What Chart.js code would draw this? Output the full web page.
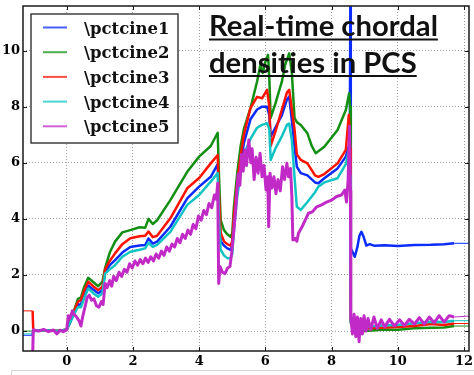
<!DOCTYPE html>
<html>
<head>
<meta charset="utf-8">
<script src="https://cdn.jsdelivr.net/npm/chart.js@4.4.0/dist/chart.umd.min.js"></script>
<style>
  html, body { margin: 0; padding: 0; background: #fff; }
  canvas { display: block; }
</style>
</head>
<body>
<canvas id="chart" width="474" height="375"></canvas>
<script>
const xTicks = [0, 2, 4, 6, 8, 10, 12]
const yTicks = [0, 2, 4, 6, 8, 10]
const seriesNames = ['\\pctcine1', '\\pctcine2', '\\pctcine3', '\\pctcine4', '\\pctcine5']
const seriesColors = ['#0a2cff', '#138f13', '#ff1200', '#10c4c4', '#c22ac8']
const titleLines = ['Real-time chordal', 'densities in PCS']

// [time, density]
const cine1 = [[-1.32,-0.15],[-1.03,-0.15],[-1.01,0.0],[-0.6,0.02],[-0.3,0.0],[0.0,0.05],[0.1,0.3],[0.22,0.65],[0.34,0.95],[0.43,0.95],[0.52,1.3],[0.65,1.62],[0.8,1.48],[0.95,1.35],[1.08,1.45],[1.16,2.12],[1.3,2.35],[1.46,2.53],[1.68,2.8],[1.92,3.0],[2.2,3.05],[2.37,3.07],[2.47,3.3],[2.6,3.12],[2.73,3.19],[3.13,3.72],[3.64,4.73],[4.0,5.15],[4.35,5.5],[4.56,5.95],[4.6,4.4],[4.65,3.2],[4.75,3.05],[4.85,2.95],[4.95,2.9],[5.0,3.05],[5.05,3.9],[5.15,5.0],[5.25,5.9],[5.35,6.7],[5.55,7.55],[5.75,7.9],[5.9,8.0],[6.05,8.0],[6.12,7.7],[6.16,6.93],[6.3,7.25],[6.5,7.7],[6.65,8.25],[6.72,8.36],[6.8,7.5],[6.88,6.6],[6.95,5.86],[7.07,5.63],[7.27,5.55],[7.5,5.3],[7.6,5.27],[7.78,5.45],[8.18,5.8],[8.43,6.22],[8.55,6.7],[8.57,13],[8.58,2.95],[8.7,2.65],[8.78,3.0],[8.84,3.4],[8.9,3.54],[8.97,3.35],[9.05,3.05],[9.15,3.1],[9.3,3.04],[9.6,3.06],[10.0,3.03],[10.5,3.07],[11.0,3.08],[11.4,3.1],[11.7,3.13],[12.2,3.13]]
const cine2 = [[-1.32,0.0],[-1.03,0.0],[-1.01,0.02],[-0.6,0.03],[-0.3,0.0],[0.0,0.05],[0.1,0.4],[0.22,0.72],[0.34,1.15],[0.43,1.2],[0.52,1.55],[0.65,1.9],[0.8,1.75],[0.95,1.6],[1.08,1.76],[1.16,2.25],[1.3,2.8],[1.46,3.19],[1.68,3.52],[1.92,3.6],[2.2,3.7],[2.37,3.68],[2.47,4.0],[2.6,3.82],[2.73,3.95],[3.13,4.67],[3.64,5.68],[4.0,6.22],[4.35,6.6],[4.56,7.07],[4.6,5.5],[4.65,3.96],[4.75,3.6],[4.85,3.45],[4.95,3.36],[5.0,3.5],[5.05,4.43],[5.15,5.63],[5.25,6.57],[5.35,7.2],[5.55,7.95],[5.75,8.9],[5.85,9.5],[5.92,9.2],[6.0,9.6],[6.08,9.85],[6.12,9.0],[6.16,7.6],[6.3,8.1],[6.5,8.9],[6.6,9.5],[6.72,9.9],[6.8,9.2],[6.88,7.6],[6.95,7.45],[7.07,7.35],[7.27,7.05],[7.4,6.6],[7.52,6.34],[7.78,6.57],[8.18,7.17],[8.43,7.88],[8.53,8.48],[8.56,8.0],[8.58,0.3],[8.7,0.05],[8.8,0.1],[9.0,0.0],[9.5,0.05],[10.0,0.05],[10.5,0.1],[11.0,0.12],[11.4,0.13],[11.7,0.18],[12.2,0.18]]
const cine3 = [[-1.32,0.72],[-1.03,0.72],[-1.01,0.02],[-0.6,0.03],[-0.3,0.0],[0.0,0.05],[0.1,0.32],[0.22,0.7],[0.34,1.05],[0.43,1.1],[0.52,1.42],[0.65,1.76],[0.8,1.6],[0.95,1.46],[1.08,1.58],[1.16,2.2],[1.3,2.5],[1.46,2.77],[1.68,3.1],[1.92,3.31],[2.2,3.38],[2.37,3.4],[2.47,3.55],[2.6,3.35],[2.73,3.4],[3.13,4.02],[3.64,5.09],[4.0,5.46],[4.35,5.98],[4.56,6.28],[4.6,4.8],[4.65,3.5],[4.75,3.2],[4.85,3.1],[4.95,3.05],[5.0,3.2],[5.05,4.1],[5.15,5.3],[5.25,6.2],[5.35,7.0],[5.55,7.95],[5.75,8.35],[5.9,8.3],[6.05,8.6],[6.12,8.0],[6.16,6.6],[6.3,7.1],[6.5,7.9],[6.65,8.5],[6.72,8.6],[6.8,7.9],[6.88,7.2],[6.95,6.3],[7.07,6.1],[7.27,5.98],[7.5,5.55],[7.6,5.5],[7.78,5.6],[8.18,5.98],[8.43,6.46],[8.52,7.7],[8.56,6.5],[8.58,0.4],[8.7,0.2],[8.85,0.1],[9.0,0.1],[9.5,0.12],[10.0,0.15],[10.5,0.18],[11.0,0.25],[11.4,0.22],[11.7,0.27],[12.2,0.27]]
const cine4 = [[-1.32,-0.1],[-1.03,-0.1],[-1.01,0.02],[-0.6,0.03],[-0.3,0.0],[0.0,0.05],[0.1,0.3],[0.22,0.6],[0.34,0.85],[0.43,0.85],[0.52,1.15],[0.65,1.52],[0.8,1.35],[0.95,1.22],[1.08,1.35],[1.16,2.05],[1.3,2.2],[1.46,2.35],[1.68,2.65],[1.92,2.83],[2.2,2.9],[2.37,2.95],[2.47,3.15],[2.6,3.0],[2.73,3.07],[3.13,3.54],[3.64,4.5],[4.0,4.85],[4.35,5.33],[4.56,5.63],[4.6,4.0],[4.65,2.9],[4.75,2.7],[4.85,2.6],[4.95,2.6],[5.0,2.75],[5.05,3.6],[5.15,4.8],[5.25,5.6],[5.35,6.3],[5.55,6.85],[5.75,7.25],[5.9,7.35],[6.05,7.41],[6.12,7.2],[6.16,6.1],[6.3,6.5],[6.5,6.95],[6.65,7.35],[6.72,7.4],[6.8,6.8],[6.88,5.5],[6.95,4.43],[7.07,4.32],[7.27,4.6],[7.5,4.95],[7.6,5.15],[7.78,5.3],[8.18,5.45],[8.43,5.95],[8.53,6.5],[8.56,5.5],[8.58,0.3],[8.7,0.25],[8.85,0.12],[9.0,0.15],[9.5,0.2],[10.0,0.22],[10.5,0.28],[11.0,0.33],[11.4,0.32],[11.7,0.37],[12.2,0.37]]
const cine5 = [[-1.32,-1.0],[-1.03,-1.0],[-1.01,0.05],[-0.85,0.0],[-0.7,0.06],[-0.55,-0.02],[-0.4,0.04],[-0.3,-0.1],[-0.2,0.03],[-0.1,-0.02],[0.0,0.05],[0.05,0.55],[0.1,0.45],[0.17,0.72],[0.22,0.6],[0.3,0.5],[0.38,0.35],[0.43,0.18],[0.48,0.5],[0.55,0.85],[0.62,1.2],[0.68,1.28],[0.75,1.1],[0.82,1.15],[0.9,0.9],[0.97,0.85],[1.05,1.05],[1.1,0.95],[1.16,1.7],[1.22,1.55],[1.3,1.8],[1.36,1.6],[1.42,1.95],[1.5,1.8],[1.58,2.1],[1.66,1.95],[1.74,2.2],[1.82,2.1],[1.9,2.4],[1.98,2.25],[2.06,2.5],[2.14,2.35],[2.22,2.55],[2.3,2.4],[2.38,2.6],[2.46,2.45],[2.54,2.65],[2.62,2.5],[2.7,2.75],[2.78,2.6],[2.86,2.85],[2.94,2.7],[3.02,3.0],[3.1,2.85],[3.18,3.1],[3.26,3.0],[3.34,3.3],[3.42,3.15],[3.5,3.45],[3.58,3.3],[3.66,3.6],[3.74,3.45],[3.82,3.8],[3.9,3.65],[3.98,4.1],[4.06,3.95],[4.14,4.3],[4.22,4.15],[4.3,4.55],[4.38,4.4],[4.46,4.85],[4.52,4.7],[4.56,5.27],[4.59,1.7],[4.63,2.3],[4.7,2.1],[4.78,2.05],[4.86,2.25],[4.93,2.3],[4.98,2.77],[5.05,3.6],[5.12,4.6],[5.18,5.6],[5.23,5.2],[5.28,6.3],[5.33,5.7],[5.38,6.46],[5.43,5.9],[5.5,6.81],[5.56,6.0],[5.6,6.5],[5.66,5.4],[5.72,6.2],[5.78,5.63],[5.84,6.34],[5.9,5.5],[5.96,5.9],[6.02,5.03],[6.07,5.5],[6.1,3.72],[6.14,5.63],[6.2,5.1],[6.26,5.5],[6.32,4.9],[6.38,5.4],[6.45,5.0],[6.52,5.86],[6.58,5.4],[6.65,5.98],[6.7,5.5],[6.76,5.8],[6.8,4.8],[6.83,3.25],[6.9,3.3],[6.95,3.2],[7.0,3.49],[7.1,3.7],[7.2,3.95],[7.3,4.2],[7.42,4.25],[7.55,4.43],[7.7,4.5],[7.85,4.6],[8.0,4.67],[8.15,4.8],[8.3,4.85],[8.4,5.03],[8.45,4.6],[8.5,5.4],[8.54,7.3],[8.57,5.0],[8.58,0.5],[8.63,-0.1],[8.68,0.6],[8.73,-0.2],[8.78,0.5],[8.83,-0.38],[8.88,0.45],[8.93,-0.1],[8.98,0.55],[9.04,0.0],[9.1,0.45],[9.18,0.05],[9.28,0.5],[9.38,0.1],[9.5,0.4],[9.6,0.15],[9.75,0.42],[9.9,0.18],[10.05,0.4],[10.2,0.2],[10.35,0.42],[10.5,0.25],[10.65,0.48],[10.8,0.25],[10.95,0.5],[11.1,0.3],[11.25,0.55],[11.4,0.32],[11.55,0.55],[11.7,0.5],[12.2,0.54]]

const allSeries = [cine1, cine2, cine3, cine4, cine5]
const widths = [2.5, 2.5, 2.5, 2.5, 3]

Chart.defaults.font.family = 'DejaVu Serif'
Chart.defaults.font.weight = 'bold'
Chart.defaults.font.size = 13
Chart.defaults.color = '#000'

// flat ends before/after the recording are thin lines
const thinTail = (w) => (c) => (c.p1.parsed.x <= -1.03 || c.p0.parsed.x >= 11.7) ? 1 : w

const overlayPlugin = {
    id: 'overlay',
    afterDraw: (chart) => {
        const { ctx, chartArea: a, scales: { x, y } } = chart
        ctx.save()
        // inward tick marks
        ctx.strokeStyle = '#1a1a1a'
        ctx.lineWidth = 1
        ctx.beginPath()
        xTicks.forEach(v => {
            const p = Math.round(x.getPixelForValue(v)) + 0.5
            ctx.moveTo(p, a.bottom); ctx.lineTo(p, a.bottom - 4)
            ctx.moveTo(p, a.top); ctx.lineTo(p, a.top + 4)
        })
        yTicks.forEach(v => {
            const p = Math.round(y.getPixelForValue(v)) + 0.5
            ctx.moveTo(a.left, p); ctx.lineTo(a.left + 4, p)
            ctx.moveTo(a.right, p); ctx.lineTo(a.right - 4, p)
        })
        ctx.stroke()
        // plot frame
        ctx.lineWidth = 1.5
        ctx.strokeRect(a.left, a.top, a.right - a.left, a.bottom - a.top)

        // legend box
        ctx.fillStyle = '#fff'
        ctx.fillRect(31, 14, 147, 129)
        ctx.strokeStyle = '#333'
        ctx.lineWidth = 1.4
        ctx.strokeRect(31, 14, 147, 129)
        ctx.font = 'bold 16.5px "DejaVu Serif"'
        ctx.textAlign = 'left'
        ctx.textBaseline = 'alphabetic'
        seriesNames.forEach((name, i) => {
            const ly = 27.5 + i * 24.7
            ctx.globalAlpha = 0.75
            ctx.strokeStyle = seriesColors[i]
            ctx.lineWidth = 2
            ctx.beginPath()
            ctx.moveTo(43, ly); ctx.lineTo(67, ly)
            ctx.stroke()
            ctx.globalAlpha = 1
            ctx.fillStyle = '#111'
            ctx.fillText(name, 84, ly + 6)
        })

        // title overlay, fitted to the width it has in the picture
        ctx.font = 'bold 28px Lato'
        const w0 = ctx.measureText(titleLines[0]).width
        const size = 28 * 229 / w0
        ctx.font = `bold ${size}px Lato`
        ctx.fillStyle = '#111'
        ctx.strokeStyle = '#111'
        ctx.lineWidth = 2
        const baselines = [36, 72.5]
        titleLines.forEach((t, i) => {
            ctx.fillText(t, 209, baselines[i])
            const w = ctx.measureText(t).width
            ctx.beginPath()
            ctx.moveTo(209, baselines[i] + 3.5)
            ctx.lineTo(209 + w, baselines[i] + 3.5)
            ctx.stroke()
        })

        // faint picture border below
        ctx.strokeStyle = '#d6d6d6'
        ctx.lineWidth = 1
        ctx.beginPath()
        ctx.moveTo(11.5, 375); ctx.lineTo(11.5, 370.5); ctx.lineTo(474, 370.5)
        ctx.stroke()
        ctx.restore()
    }
}

new Chart(document.getElementById('chart').getContext('2d'), {
    type: 'line',
    data: {
        datasets: allSeries.map((s, i) => ({
            label: seriesNames[i],
            data: s.map(([t, v]) => ({ x: t, y: v })),
            borderColor: seriesColors[i],
            borderWidth: widths[i],
            borderJoinStyle: 'round',
            pointRadius: 0,
            tension: 0,
            order: 5 - i,
            segment: { borderWidth: thinTail(widths[i]) }
        }))
    },
    options: {
        responsive: false,
        animation: false,
        devicePixelRatio: 1,
        layout: { padding: { left: 0, top: 6, right: 5, bottom: 0 } },
        plugins: { legend: { display: false }, tooltip: { enabled: false } },
        scales: {
            x: {
                type: 'linear',
                min: -1.32,
                max: 12.15,
                afterBuildTicks: (scale) => { scale.ticks = xTicks.map(v => ({ value: v })) },
                afterFit: (scale) => { scale.height = 24; scale.paddingLeft = 0; scale.paddingRight = 0 },
                ticks: { padding: 3, maxRotation: 0, autoSkip: false },
                grid: { color: 'rgba(0,0,0,0.38)', lineWidth: 1, drawTicks: false },
                border: { display: false, dash: [1, 2] }
            },
            y: {
                type: 'linear',
                min: -0.71,
                max: 11.59,
                afterBuildTicks: (scale) => { scale.ticks = yTicks.map(v => ({ value: v })) },
                afterFit: (scale) => { scale.width = 23; scale.paddingTop = 0; scale.paddingBottom = 0 },
                ticks: { padding: 3 },
                grid: { color: 'rgba(0,0,0,0.38)', lineWidth: 1, drawTicks: false },
                border: { display: false, dash: [1, 2] }
            }
        }
    },
    plugins: [overlayPlugin]
})
</script>
</body>
</html>
